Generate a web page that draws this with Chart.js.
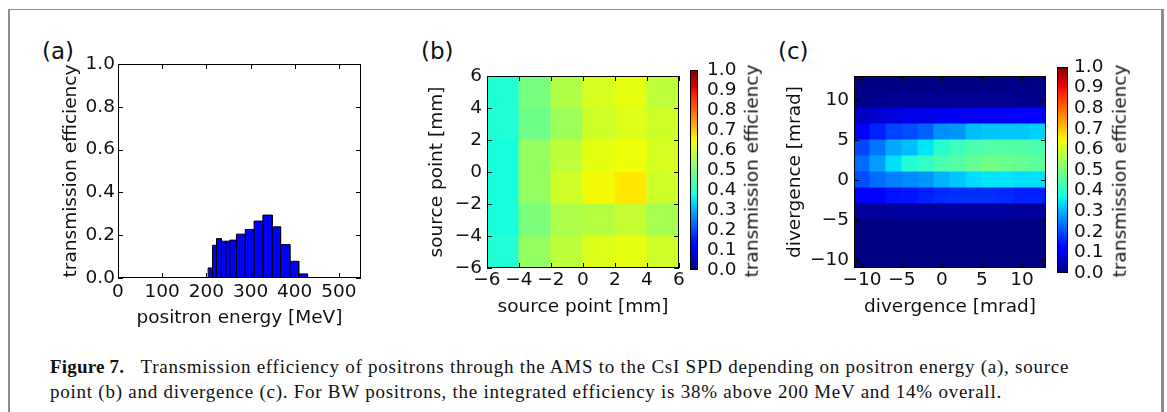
<!DOCTYPE html>
<html>
<head>
<meta charset="utf-8">
<script src="https://cdn.jsdelivr.net/npm/chart.js@4.4.1/dist/chart.umd.min.js"></script>
<style>
  html, body { margin: 0; padding: 0; background: #fff; }
  #fig { position: relative; width: 1167px; height: 412px; overflow: hidden; font-family: "DejaVu Sans", sans-serif; }
  .frame { position: absolute; left: 8px; top: 9px; width: 1156px; height: 420px; box-sizing: border-box;
           border-left: 2px solid #8c8c8c; border-right: 3px solid #8c8c8c; border-top: 1px solid #8c8c8c; }
  .panel { position: absolute; font-size: 23px; line-height: 23px; color: #111; }
  .cbtitle { position: absolute; font-size: 18.5px; line-height: 1; white-space: nowrap; color: #111;
             transform: translate(-50%, -50%) rotate(-90deg); }
  canvas { position: absolute; }
  .caption { position: absolute; left: 50px; top: 354px; font-family: "Liberation Serif", serif; font-size: 19px;
             letter-spacing: 0.75px; line-height: 25px; white-space: nowrap; color: #111; }
  .caption b { font-weight: bold; letter-spacing: 0.2px; }
</style>
</head>
<body>
<div id="fig">
  <div class="frame"></div>

  <div class="panel" style="left:42px; top:40px;">(a)</div>
  <div class="panel" style="left:421px; top:40px;">(b)</div>
  <div class="panel" style="left:778px; top:40px;">(c)</div>

  <canvas id="histA" width="350" height="300" style="left:20px; top:40px;"></canvas>
  <canvas id="heatB" width="272" height="280" style="left:420px; top:50px;"></canvas>
  <canvas id="cbarB" width="60" height="240" style="left:685px; top:50px;"></canvas>
  <canvas id="heatC" width="280" height="280" style="left:770px; top:50px;"></canvas>
  <canvas id="cbarC" width="110" height="240" style="left:1050px; top:50px;"></canvas>

  <div class="cbtitle" style="left:752px; top:171px;">transmission efficiency</div>
  <div class="cbtitle" style="left:1120px; top:171px;">transmission efficiency</div>

  <div class="caption">
    <div><b>Figure 7.</b>&nbsp;&nbsp; Transmission efficiency of positrons through the AMS to the CsI SPD depending on positron energy (a), source</div>
    <div>point (b) and divergence (c). For BW positrons, the integrated efficiency is 38% above 200 MeV and 14% overall.</div>
  </div>
</div>

<script>
// ---- data ----
// (a) positron energy histogram: bin edges [MeV] and transmission efficiency per bin
const energyEdges = [204, 214, 223, 234, 244, 253, 268, 288, 308, 328, 349, 368, 389, 409, 429];
const energyEff = [0.047, 0.153, 0.184, 0.172, 0.172, 0.177, 0.205, 0.227, 0.266, 0.294, 0.239, 0.156, 0.078, 0.019];
const energyTicks = [0, 100, 200, 300, 400, 500];
const effTicks = [0, 0.2, 0.4, 0.6, 0.8, 1.0];

// (b) source point map, rows from top (4..6 mm) to bottom (-6..-4 mm)
const srcEdges = [-6, -4, -2, 0, 2, 4, 6];
const srcEff = [
  [0.39, 0.495, 0.565, 0.61, 0.63, 0.58],
  [0.39, 0.485, 0.54, 0.60, 0.62, 0.60],
  [0.38, 0.53, 0.58, 0.63, 0.64, 0.61],
  [0.38, 0.53, 0.60, 0.645, 0.665, 0.60],
  [0.38, 0.50, 0.56, 0.57, 0.59, 0.55],
  [0.39, 0.53, 0.58, 0.62, 0.63, 0.60]
];
const srcTicks = [-6, -4, -2, 0, 2, 4, 6];

// (c) divergence map, rows from top (11..13 mrad) to bottom (-11..-9 mrad)
const divEdges = [-11, -9, -7, -5, -3, -1, 1, 3, 5, 7, 9, 11, 13];
const divEff = [
  [0.005, 0.005, 0.005, 0.005, 0.005, 0.005, 0.005, 0.005, 0.005, 0.005, 0.005, 0.005],
  [0.012, 0.014, 0.015, 0.016, 0.016, 0.016, 0.016, 0.016, 0.015, 0.015, 0.014, 0.012],
  [0.06, 0.07, 0.08, 0.09, 0.09, 0.095, 0.10, 0.10, 0.105, 0.105, 0.11, 0.11],
  [0.11, 0.155, 0.19, 0.20, 0.22, 0.265, 0.27, 0.31, 0.32, 0.32, 0.32, 0.33],
  [0.195, 0.24, 0.29, 0.31, 0.35, 0.40, 0.42, 0.44, 0.45, 0.45, 0.45, 0.44],
  [0.23, 0.28, 0.345, 0.39, 0.41, 0.44, 0.45, 0.47, 0.49, 0.48, 0.47, 0.46],
  [0.20, 0.23, 0.25, 0.26, 0.27, 0.30, 0.32, 0.34, 0.35, 0.35, 0.345, 0.345],
  [0.11, 0.115, 0.14, 0.145, 0.155, 0.165, 0.17, 0.17, 0.17, 0.165, 0.155, 0.155],
  [0.022, 0.024, 0.026, 0.028, 0.028, 0.028, 0.028, 0.028, 0.026, 0.026, 0.024, 0.022],
  [0.003, 0.003, 0.003, 0.003, 0.003, 0.003, 0.003, 0.003, 0.003, 0.003, 0.003, 0.003],
  [0.002, 0.002, 0.002, 0.002, 0.002, 0.002, 0.002, 0.002, 0.002, 0.002, 0.002, 0.002],
  [0.002, 0.002, 0.002, 0.002, 0.002, 0.002, 0.002, 0.002, 0.002, 0.002, 0.002, 0.002]
];
const divTicks = [-10, -5, 0, 5, 10];

const cbarTicks = [0, 0.1, 0.2, 0.3, 0.4, 0.5, 0.6, 0.7, 0.8, 0.9, 1.0];

// ---- helpers ----
// matplotlib "jet" colormap
const jetStops = {
  r: [[0, 0], [0.35, 0], [0.66, 1], [0.89, 1], [1, 0.5]],
  g: [[0, 0], [0.125, 0], [0.375, 1], [0.64, 1], [0.91, 0], [1, 0]],
  b: [[0, 0.5], [0.11, 1], [0.34, 1], [0.65, 0], [1, 0]]
};
function interp(pts, v) {
  for (let i = 1; i < pts.length; i++) {
    if (v <= pts[i][0]) {
      const [x0, y0] = pts[i - 1], [x1, y1] = pts[i];
      return y0 + (y1 - y0) * (v - x0) / (x1 - x0);
    }
  }
  return pts[pts.length - 1][1];
}
function jet(v) {
  v = Math.min(1, Math.max(0, v));
  const c = k => Math.round(255 * interp(jetStops[k], v));
  return `rgb(${c('r')},${c('g')},${c('b')})`;
}

const minus = v => (v < 0 ? '\u2212' + Math.abs(v) : String(v));
const font = { family: 'DejaVu Sans', size: 18.5 };
const ink = '#111';
const fixedTicks = arr => s => { s.ticks = arr.map(v => ({ value: v })); };

// histogram outline: each bin becomes a closed step
function histPoints(edges, vals) {
  const pts = [];
  vals.forEach((h, i) => {
    pts.push({ x: edges[i], y: 0 }, { x: edges[i], y: h }, { x: edges[i + 1], y: h }, { x: edges[i + 1], y: 0 });
  });
  return pts;
}

// heatmap cells at bin centres
function cells(edgesX, edgesY, rows) {
  const out = [];
  rows.forEach((row, r) => {
    const yi = edgesY.length - 2 - r;
    row.forEach((v, c) => out.push({ x: (edgesX[c] + edgesX[c + 1]) / 2, y: (edgesY[yi] + edgesY[yi + 1]) / 2, v }));
  });
  return out;
}
function cellRadius(chart, edges) {
  const s = chart.scales.x;
  const w = Math.abs(s.getPixelForValue(edges[1]) - s.getPixelForValue(edges[0]));
  return w / 2 / Math.SQRT1_2;
}

// black axes frame with inward ticks on all four sides (matplotlib classic look)
const mplFrame = {
  id: 'mplFrame',
  afterDatasetsDraw(chart, args, opts) {
    const { ctx, chartArea: a, scales } = chart;
    ctx.save();
    ctx.strokeStyle = '#000';
    ctx.lineWidth = 1;
    ctx.strokeRect(a.left + 0.5, a.top + 0.5, a.width - 1, a.height - 1);
    const len = opts.len || 5;
    ctx.beginPath();
    if (opts.xTicks) {
      scales.x.ticks.forEach(t => {
        const p = Math.round(scales.x.getPixelForValue(t.value)) + 0.5;
        ctx.moveTo(p, a.bottom); ctx.lineTo(p, a.bottom - len);
        ctx.moveTo(p, a.top); ctx.lineTo(p, a.top + len);
      });
    }
    if (opts.yTicks) {
      scales.y.ticks.forEach(t => {
        const p = Math.round(scales.y.getPixelForValue(t.value)) + 0.5;
        ctx.moveTo(a.left, p); ctx.lineTo(a.left + len, p);
        ctx.moveTo(a.right, p); ctx.lineTo(a.right - len, p);
      });
    }
    ctx.stroke();
    ctx.restore();
  }
};

const base = { responsive: false, animation: false, events: [], plugins: { legend: { display: false }, tooltip: { enabled: false } } };

// ---- (a) histogram ----
new Chart(document.getElementById('histA'), {
  type: 'scatter',
  data: {
    datasets: [{
      data: histPoints(energyEdges, energyEff),
      showLine: true,
      fill: 'origin',
      backgroundColor: '#0000ff',
      borderColor: '#000',
      borderWidth: 1,
      pointRadius: 0,
      tension: 0
    }]
  },
  options: {
    ...base,
    layout: { padding: { left: 0, top: 24, right: 9, bottom: 0 } },
    plugins: { ...base.plugins, mplFrame: { xTicks: true, yTicks: true, len: 5 } },
    scales: {
      x: {
        type: 'linear', min: 0, max: 550,
        afterBuildTicks: fixedTicks(energyTicks),
        afterFit: s => { s.height = 62; },
        grid: { display: false, drawTicks: false }, border: { display: false },
        ticks: { font, color: ink, padding: 3, maxRotation: 0, autoSkip: false, callback: v => String(v) },
        title: { display: true, text: 'positron energy [MeV]', font, color: ink, padding: { top: 0, bottom: 11 } }
      },
      y: {
        type: 'linear', min: 0, max: 1,
        afterBuildTicks: fixedTicks(effTicks),
        afterFit: s => { s.width = 98; },
        grid: { display: false, drawTicks: false }, border: { display: false },
        ticks: { font, color: ink, padding: 3, autoSkip: false, callback: v => v.toFixed(1) },
        title: { display: true, text: 'transmission efficiency', font, color: ink, padding: { top: 40, bottom: 0 } }
      }
    }
  },
  plugins: [mplFrame]
});

// ---- heatmap factory ----
function heatmap(id, edgesX, edgesY, rows, ticks, xTitle, yTitle, yWidth, yTitlePad, padRight) {
  return new Chart(document.getElementById(id), {
    type: 'scatter',
    data: {
      datasets: [{
        data: cells(edgesX, edgesY, rows),
        pointStyle: 'rect',
        pointRadius: ctx => cellRadius(ctx.chart, edgesX),
        pointBackgroundColor: ctx => jet(ctx.raw.v),
        pointBorderColor: ctx => jet(ctx.raw.v),
        pointBorderWidth: 1
      }]
    },
    options: {
      ...base,
      layout: { padding: { left: 0, top: 26, right: padRight, bottom: 0 } },
      plugins: { ...base.plugins, mplFrame: { xTicks: true, yTicks: true, len: 5 } },
      scales: {
        x: {
          type: 'linear', min: edgesX[0], max: edgesX[edgesX.length - 1],
          afterBuildTicks: fixedTicks(ticks),
          afterFit: s => { s.height = 62; },
          grid: { display: false, drawTicks: false }, border: { display: false },
          ticks: { font, color: ink, padding: 1, maxRotation: 0, autoSkip: false, callback: minus },
          title: { display: true, text: xTitle, font, color: ink, padding: { top: 0, bottom: 12 } }
        },
        y: {
          type: 'linear', min: edgesY[0], max: edgesY[edgesY.length - 1],
          afterBuildTicks: fixedTicks(ticks),
          afterFit: s => { s.width = yWidth; },
          grid: { display: false, drawTicks: false }, border: { display: false },
          ticks: { font, color: ink, padding: 5, autoSkip: false, callback: minus },
          title: { display: true, text: yTitle, font, color: ink, padding: { top: yTitlePad, bottom: 0 } }
        }
      }
    },
    plugins: [mplFrame]
  });
}

heatmap('heatB', srcEdges, srcEdges, srcEff, srcTicks, 'source point [mm]', 'source point [mm]', 67, 6, 13);
heatmap('heatC', divEdges, divEdges, divEff, divTicks, 'divergence [mrad]', 'divergence [mrad]', 84, 14, 4);

// ---- colorbars ----
function colorbar(id, padLeft, axisWidth, labelPad) {
  return new Chart(document.getElementById(id), {
    type: 'bar',
    data: {
      labels: [''],
      datasets: [{
        data: [[cbarTicks[0], cbarTicks[cbarTicks.length - 1]]],
        barPercentage: 1,
        categoryPercentage: 1,
        borderWidth: 0,
        backgroundColor: ctx => {
          const a = ctx.chart.chartArea;
          if (!a) return '#000080';
          const g = ctx.chart.ctx.createLinearGradient(0, a.bottom, 0, a.top);
          for (let i = 0; i <= 100; i++) g.addColorStop(i / 100, jet(i / 100));
          return g;
        }
      }]
    },
    options: {
      ...base,
      layout: { padding: { left: padLeft, top: 15, right: 0, bottom: 13 } },
      plugins: { ...base.plugins, mplFrame: { xTicks: false, yTicks: false } },
      scales: {
        x: { display: false },
        y: {
          position: 'right', min: 0, max: 1,
          afterBuildTicks: fixedTicks(cbarTicks),
          afterFit: s => { s.width = axisWidth; },
          grid: { display: false, drawTicks: false }, border: { display: false },
          ticks: { font, color: ink, padding: labelPad, autoSkip: false, callback: v => v.toFixed(1) }
        }
      }
    },
    plugins: [mplFrame]
  });
}

colorbar('cbarB', 5, 47, 9);
colorbar('cbarC', 7, 92, 6);
</script>
</body>
</html>
